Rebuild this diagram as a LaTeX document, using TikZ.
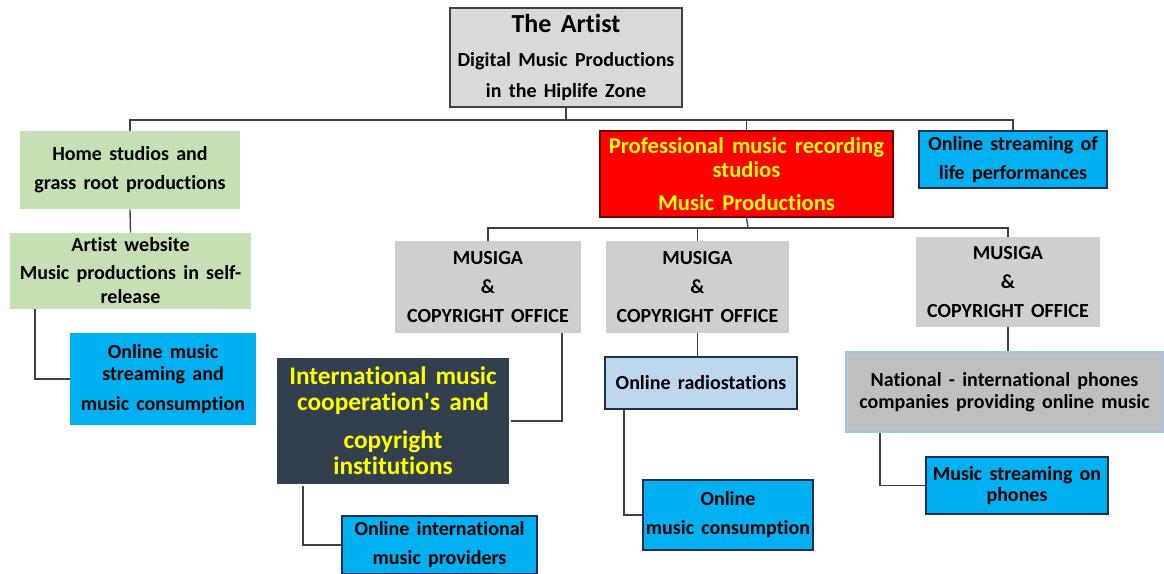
\documentclass[tikz,border=0pt]{standalone}
\usepackage{fontspec}
\setmainfont{Carlito}[Ligatures=NoCommon, WordSpace=1.6]
\usepackage{xcolor}
\usepackage{tikz}
\usetikzlibrary{arrows}
\usetikzlibrary{shadows}
\usetikzlibrary{positioning}

\definecolor{artgray}{HTML}{D9D9D9}
\definecolor{homegreen}{HTML}{C5E0B4}
\definecolor{onlineblue}{HTML}{00B0F0}
\definecolor{navyline}{HTML}{1F2F4F}
\definecolor{musgray}{HTML}{D0CECE}
\definecolor{intldark}{HTML}{323F4F}
\definecolor{radioblue}{HTML}{BDD7EE}
\definecolor{natlgray}{HTML}{BFBFBF}
\definecolor{natlline}{HTML}{9DC3E6}
\definecolor{linegray}{HTML}{404040}
\definecolor{textyellow}{HTML}{FFFF00}

\begin{document}
\begin{tikzpicture}[x=0.75pt, y=-0.75pt]
          \tikzstyle{every node}=[align=center, inner sep=0pt, font=\bfseries\fontsize{15}{21.75}\selectfont]
          \tikzstyle{link}=[draw=linegray, line width=1pt]
          \tikzstyle{greenbox}=[fill=homegreen]
          \tikzstyle{bluebox}=[fill=onlineblue, draw=navyline, line width=0.9pt]
          \tikzstyle{musbox}=[fill=musgray, minimum height=69pt]
          \useasboundingbox (0,0) rectangle (1164,574);

          % first level
          \node[fill=artgray, draw=linegray, line width=1.2pt, minimum width=174pt, minimum height=74.25pt] (A) at (566,57.5)
            {{\fontsize{19.5}{22}\selectfont The Artist}\\[4pt] Digital Music Productions\\[1.5pt] in the Hiplife Zone};
          \node[greenbox, minimum width=165pt, minimum height=58.5pt] (H) at (130,170)
            {Home studios and\\ grass root productions};
          \node[fill=red, draw=red!45!black, line width=0.9pt, text=textyellow, minimum width=219.75pt, minimum height=64.5pt,
                font=\bfseries\fontsize{17}{18}\selectfont] (P) at (746.5,174)
            {Professional music recording\\ studios\\[6.75pt] Music Productions};
          \node[bluebox, minimum width=141pt, minimum height=42.75pt] (L) at (1013,159.5)
            {Online streaming of\\ life performances};

          % self release branch
          \node[greenbox, minimum width=180.75pt, minimum height=57pt, font=\bfseries\fontsize{15}{18}\selectfont] (W) at (130.5,271)
            {Artist website\\[3pt] Music productions in self-\\ release};
          \node[fill=onlineblue, minimum width=139.5pt, minimum height=69pt, font=\bfseries\fontsize{15}{16.5}\selectfont] (S) at (163,379)
            {Online music\\ streaming and\\[6pt] music consumption};

          % MUSIGA offices
          \node[musbox, minimum width=139.5pt] (M1) at (488,287) {MUSIGA\\ \&\\ COPYRIGHT OFFICE};
          \node[musbox, minimum width=137.25pt] (M2) at (697.5,287) {MUSIGA\\ \&\\ COPYRIGHT OFFICE};
          \node[musbox, minimum width=138pt, minimum height=67.5pt] (M3) at (1008,282) {MUSIGA\\ \&\\ COPYRIGHT OFFICE};

          \node[fill=intldark, draw=white, line width=2pt, text=textyellow, minimum width=175.5pt, minimum height=96pt,
                drop shadow={shadow xshift=0.8pt, shadow yshift=-0.8pt, opacity=0.35},
                font=\bfseries\fontsize{19}{19.5}\selectfont] (I) at (393,421)
            {International music\\ cooperation\textquotesingle s and\\[9pt] copyright\\ institutions};
          \node[fill=radioblue, draw=navyline, line width=0.9pt, minimum width=144pt, minimum height=39pt] (R) at (701,383)
            {Online radiostations};
          \node[fill=natlgray, draw=natlline, line width=1.2pt, minimum width=238pt, minimum height=60pt,
                drop shadow={shadow xshift=0.8pt, shadow yshift=-0.8pt, opacity=0.3},
                font=\bfseries\fontsize{15}{16.5}\selectfont] (N) at (1004.5,392)
            {National - international phones\\ companies providing online music};

          % last level
          \node[bluebox, minimum width=146.25pt, minimum height=43.5pt] (V) at (439.5,545)
            {Online international\\ music providers};
          \node[bluebox, minimum width=127.5pt, minimum height=52.5pt] (C) at (728,515)
            {Online\\ music consumption};
          \node[bluebox, minimum width=136.5pt, minimum height=42.75pt, font=\bfseries\fontsize{15}{15.75}\selectfont] (Ph) at (1017,485.5)
            {Music streaming on\\ phones};

          \coordinate (bus1) at (566,120);
          \coordinate (bus2) at (748,228);

          \draw[link] (A.south) -- (bus1);
          \draw[link] (H.north) |- (bus1) -| (L.north);
          \draw[link] (P.north) -- (P.north |- bus1);
          \draw[link] (H.south) -- (W.north);
          \draw[link] ([xshift=-71.6pt]W.south) |- (S.west);
          \draw[link] (P.south) -- (bus2);
          \draw[link] (M1.north) |- (bus2) -| (M3.north);
          \draw[link] (M2.north) -- (M2.north |- bus2);
          \draw[link] ([xshift=55.5pt]M1.south) |- (I.east);
          \draw[link] (M2.south) -- (M2.south |- R.north);
          \draw[link] ([xshift=-57.75pt]R.south) |- (C.west);
          \draw[link] (M3.south) -- (M3.south |- N.north);
          \draw[link] ([xshift=-93.4pt]N.south) |- (Ph.west);
          \draw[link] ([xshift=-67.5pt]I.south) |- (V.west);
\end{tikzpicture}
\end{document}
